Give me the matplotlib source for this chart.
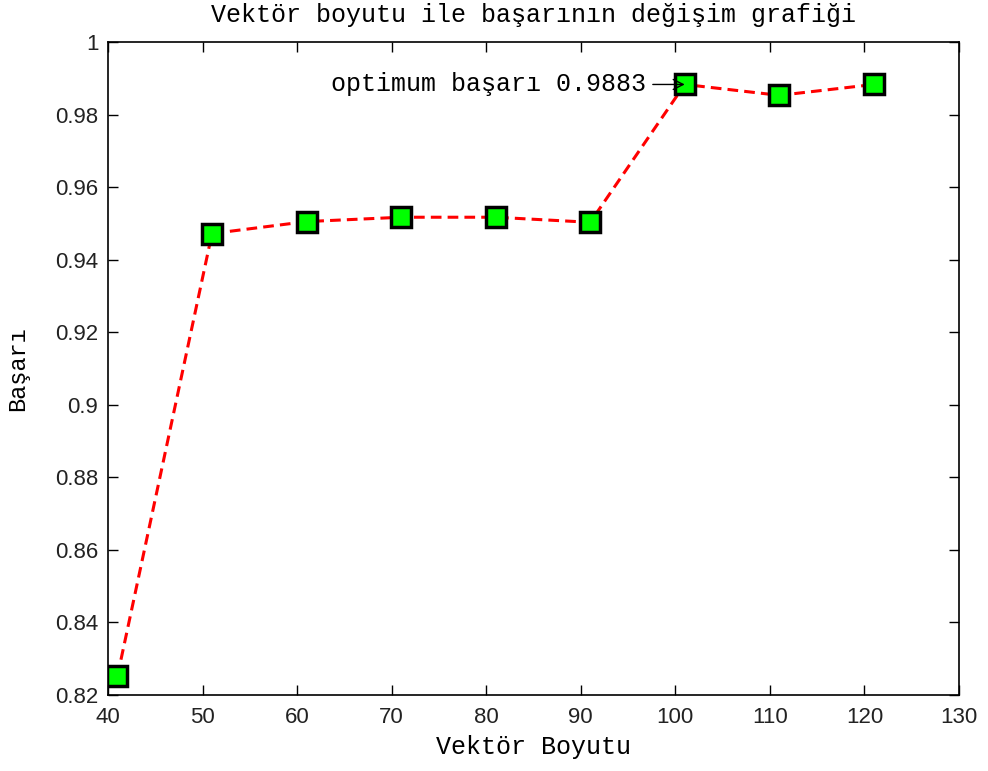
import numpy as np
import matplotlib
matplotlib.use('Agg')
import matplotlib.pyplot as plt
from matplotlib.ticker import FuncFormatter

# vector size vs. success rate
vektor_boyutu = [41, 51, 61, 71, 81, 91, 101, 111, 121]
basari = [0.8252, 0.9472, 0.9505, 0.9517, 0.9517, 0.9503, 0.9883, 0.9853, 0.9883]
optimum_x, optimum_y = 101, 0.9883

x_ticks = list(range(40, 131, 10))
y_ticks = [0.82, 0.84, 0.86, 0.88, 0.90, 0.92, 0.94, 0.96, 0.98, 1.00]

mono = 'Liberation Mono'
sans = 'Liberation Sans'

fig = plt.figure(figsize=(9.88, 7.71), dpi=100)
ax = fig.add_axes([0.1093, 0.0986, 0.8613, 0.8469])

ax.plot(vektor_boyutu, basari, linestyle='--', color='red', linewidth=2.2,
        dashes=(3.5, 2), marker='s', markersize=14, markerfacecolor='#00ff00',
        markeredgecolor='black', markeredgewidth=2.5, zorder=3)

ax.annotate('optimum başarı %.4f' % optimum_y, xy=(optimum_x, optimum_y),
            xytext=(-28, 0), textcoords='offset points', ha='right', va='center',
            fontsize=18, family=mono,
            arrowprops=dict(arrowstyle='->', color='black', lw=1.0,
                            shrinkA=3, shrinkB=0))

ax.set_xlim(40, 130)
ax.set_ylim(0.82, 1.0)
ax.set_xticks(x_ticks)
ax.set_yticks(y_ticks)
ax.yaxis.set_major_formatter(FuncFormatter(lambda v, p: '%g' % round(v, 2)))
ax.tick_params(direction='in', length=7, width=1, top=True, right=True,
               labelsize=16, labelcolor='#222222')
ax.tick_params(axis='x', pad=9)
ax.tick_params(axis='y', pad=7)
for lbl in ax.get_xticklabels() + ax.get_yticklabels():
    lbl.set_family(sans)
for sp in ax.spines.values():
    sp.set_linewidth(1.2)

ax.set_title('Vektör boyutu ile başarının değişim grafiği', family=mono,
             fontsize=18, y=1.018)
ax.set_xlabel('Vektör Boyutu', family=mono, fontsize=18, va='center')
ax.set_ylabel('Başarı', family=mono, fontsize=17, va='center')
ax.xaxis.set_label_coords(0.5, -0.08)
ax.yaxis.set_label_coords(-0.106, 0.5)

fig.savefig('out.png', dpi=100)
